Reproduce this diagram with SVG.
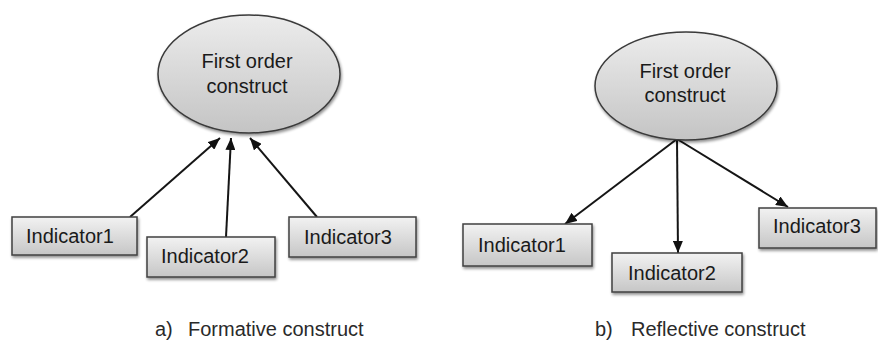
<svg xmlns="http://www.w3.org/2000/svg" width="878" height="340" viewBox="0 0 878 340">
<defs>
<linearGradient id="gEll" x1="0" y1="0" x2="0" y2="1">
<stop offset="0" stop-color="#ececec"/>
<stop offset="1" stop-color="#c4c4c4"/>
</linearGradient>
<linearGradient id="gBox" x1="0" y1="0" x2="0" y2="1">
<stop offset="0" stop-color="#f2f2f2"/>
<stop offset="1" stop-color="#c6c6c6"/>
</linearGradient>
<filter id="sh" x="-10%" y="-10%" width="125%" height="135%">
<feGaussianBlur in="SourceAlpha" stdDeviation="1.5"/>
<feOffset dx="1" dy="2" result="b"/>
<feComponentTransfer><feFuncA type="linear" slope="0.45"/></feComponentTransfer>
<feMerge><feMergeNode/><feMergeNode in="SourceGraphic"/></feMerge>
</filter>
<marker id="arr" markerUnits="userSpaceOnUse" markerWidth="12" markerHeight="10" viewBox="0 0 12 10" refX="12" refY="5" orient="auto">
<path d="M0,0 L12,5 L0,10 Z" fill="#111"/>
</marker>
</defs>
<style>
.ell{fill:url(#gEll);stroke:#3a3a3a;stroke-width:1.5;filter:url(#sh)}
.box{fill:url(#gBox);stroke:#404040;stroke-width:1.5;filter:url(#sh)}
.t{font-family:"Liberation Sans",Arial,sans-serif;font-size:20px;fill:#1a1a1a}
.cap{fill:#2a2a2a}
.c{text-anchor:middle}
.ln{stroke:#151515;stroke-width:2;fill:none;marker-end:url(#arr)}
</style>

<g id="connectors">
<line class="ln" x1="130" y1="217" x2="220" y2="138"/>
<line class="ln" x1="226" y1="237" x2="231" y2="138"/>
<line class="ln" x1="317" y1="217" x2="250" y2="138"/>
<line class="ln" x1="677" y1="139" x2="565" y2="224"/>
<line class="ln" x1="677" y1="139" x2="678" y2="253"/>
<line class="ln" x1="677" y1="139" x2="788" y2="207"/>
</g>

<g id="left-construct">
<ellipse class="ell" cx="249" cy="74" rx="91" ry="59"/>
<text class="t c" x="247" y="68">First order</text>
<text class="t c" x="247" y="93">construct</text>
</g>
<g id="left-indicator1">
<rect class="box" x="12" y="217" width="125" height="38"/>
<text class="t" x="26" y="243">Indicator1</text>
</g>
<g id="left-indicator2">
<rect class="box" x="147" y="237" width="128" height="40"/>
<text class="t" x="161" y="263">Indicator2</text>
</g>
<g id="left-indicator3">
<rect class="box" x="289" y="217" width="127" height="40"/>
<text class="t" x="304" y="244">Indicator3</text>
</g>

<g id="right-construct">
<ellipse class="ell" cx="686" cy="86" rx="91" ry="54"/>
<text class="t c" x="685" y="78">First order</text>
<text class="t c" x="685" y="102">construct</text>
</g>
<g id="right-indicator1">
<rect class="box" x="463" y="224" width="129" height="42"/>
<text class="t" x="478" y="252">Indicator1</text>
</g>
<g id="right-indicator2">
<rect class="box" x="612" y="253" width="130" height="39"/>
<text class="t" x="628" y="280">Indicator2</text>
</g>
<g id="right-indicator3">
<rect class="box" x="759" y="208" width="117" height="40"/>
<text class="t" x="773" y="233">Indicator3</text>
</g>

<g id="captions">
<text class="t cap" x="155" y="336">a)<tspan x="188">Formative construct</tspan></text>
<text class="t cap" x="595" y="336">b)<tspan x="631">Reflective construct</tspan></text>
</g>
</svg>
